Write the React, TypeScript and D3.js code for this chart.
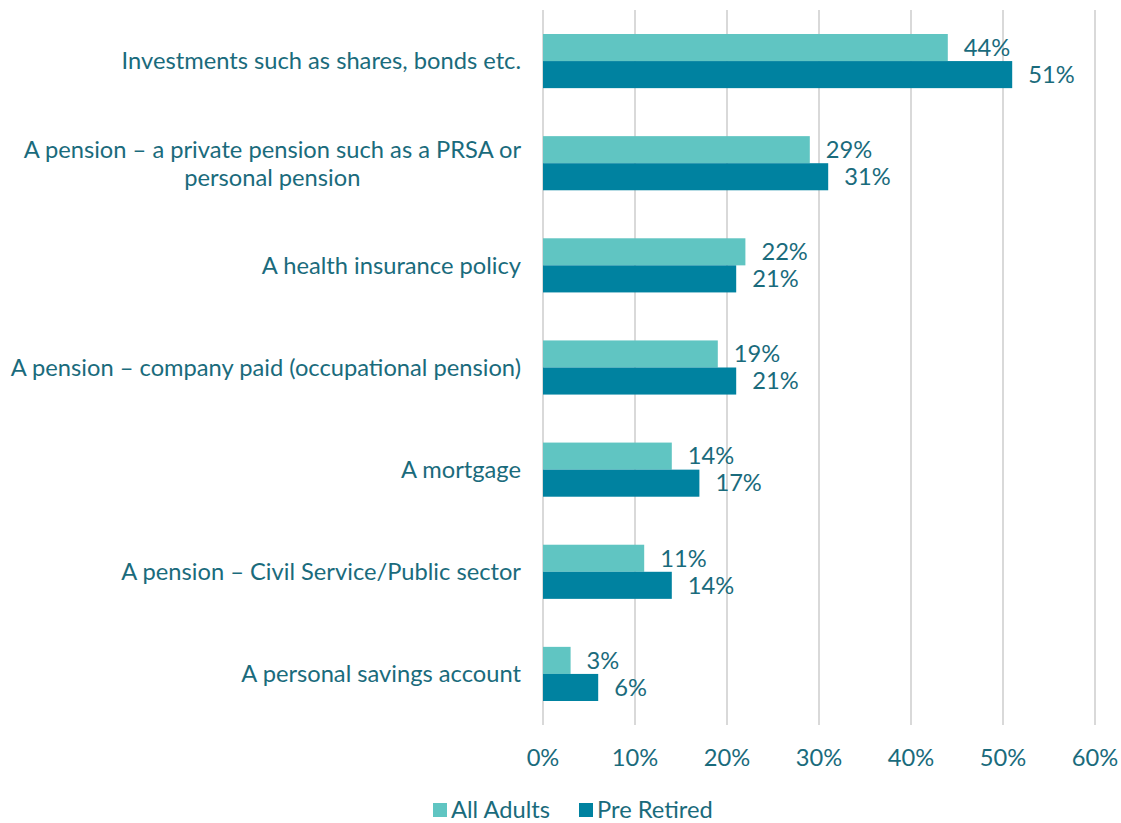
import React, { useEffect, useRef } from 'react';
import * as d3 from 'd3';

const categories = [
  'Investments such as shares, bonds etc.',
  'A pension – a private pension such as a PRSA or|personal pension',
  'A health insurance policy',
  'A pension – company paid (occupational pension)',
  'A mortgage',
  'A pension – Civil Service/Public sector',
  'A personal savings account',
];
const seriesNames = ['All Adults', 'Pre Retired'];
const allAdults = [44, 29, 22, 19, 14, 11, 3];
const preRetired = [51, 31, 21, 21, 17, 14, 6];
const ticks = [0, 10, 20, 30, 40, 50, 60];

const colors = ['#60c5c2', '#0082a0'];
const textColor = '#1a6b7c';
const font = 'Lato, "Open Sans", sans-serif';
const fs = 23.7;

const App = () => {
  const ref = useRef<SVGSVGElement>(null);

  useEffect(() => {
    const svg = d3.select(ref.current);
    svg.selectAll('*').remove();

    const left = 543, right = 1095, top = 10, bottom = 725;
    const x = d3.scaleLinear().domain([0, 60]).range([left, right]);
    const y = d3.scaleBand().domain(categories).range([top, bottom]).paddingInner(0.47).paddingOuter(0.235);
    const sub = d3.scaleBand().domain(seriesNames).range([0, y.bandwidth()]);

    svg.append('g')
      .selectAll('line')
      .data(ticks)
      .enter()
      .append('line')
      .attr('x1', d => x(d)).attr('x2', d => x(d))
      .attr('y1', top).attr('y2', bottom)
      .attr('stroke', '#d9d9d9')
      .attr('stroke-width', 2);

    const series = [allAdults, preRetired];
    series.forEach((vals, si) => {
      const g = svg.append('g');
      g.selectAll('rect')
        .data(vals)
        .enter()
        .append('rect')
        .attr('x', x(0))
        .attr('y', (d, i) => (y(categories[i]) as number) + (sub(seriesNames[si]) as number))
        .attr('width', d => x(d) - x(0))
        .attr('height', sub.bandwidth())
        .attr('fill', colors[si]);
      g.selectAll('text')
        .data(vals)
        .enter()
        .append('text')
        .attr('x', d => x(d) + 16)
        .attr('y', (d, i) => (y(categories[i]) as number) + (sub(seriesNames[si]) as number) + sub.bandwidth() / 2)
        .attr('dy', '0.35em')
        .attr('fill', textColor)
        .attr('font-family', font)
        .attr('font-size', fs)
        .text(d => `${d}%`);
    });

    // category labels
    categories.forEach(c => {
      const lines = c.split('|');
      const cy = (y(c) as number) + y.bandwidth() / 2;
      const t = svg.append('text')
        .attr('fill', textColor)
        .attr('font-family', font)
        .attr('font-size', fs)
        .attr('text-anchor', lines.length > 1 ? 'middle' : 'end');
      lines.forEach((l, li) => {
        t.append('tspan')
          .attr('x', 0)
          .attr('y', cy + (li - (lines.length - 1) / 2) * 28)
          .attr('dy', '0.35em')
          .text(l);
      });
      if (lines.length > 1) {
        const w = d3.max(t.selectAll<SVGTSpanElement, unknown>('tspan').nodes(), n => n.getComputedTextLength()) || 0;
        t.selectAll('tspan').attr('x', 521 - w / 2);
      } else {
        t.selectAll('tspan').attr('x', 521);
      }
    });

    // x axis labels
    svg.append('g')
      .selectAll('text')
      .data(ticks)
      .enter()
      .append('text')
      .attr('x', d => x(d))
      .attr('y', 758)
      .attr('dy', '0.35em')
      .attr('text-anchor', 'middle')
      .attr('fill', textColor)
      .attr('font-family', font)
      .attr('font-size', fs)
      .text(d => `${d}%`);

    // legend
    const legX = [433, 579];
    seriesNames.forEach((s, i) => {
      svg.append('rect')
        .attr('x', legX[i]).attr('y', 803)
        .attr('width', 14).attr('height', 14)
        .attr('fill', colors[i]);
      svg.append('text')
        .attr('x', legX[i] + 18)
        .attr('y', 810)
        .attr('dy', '0.35em')
        .attr('fill', textColor)
        .attr('font-family', font)
        .attr('font-size', fs)
        .text(s);
    });
  }, []);

  return (
    <svg ref={ref} width={1121} height={823} style={{ position: 'absolute', left: 0, top: 0, background: '#fff' }} />
  );
};

export default App;
